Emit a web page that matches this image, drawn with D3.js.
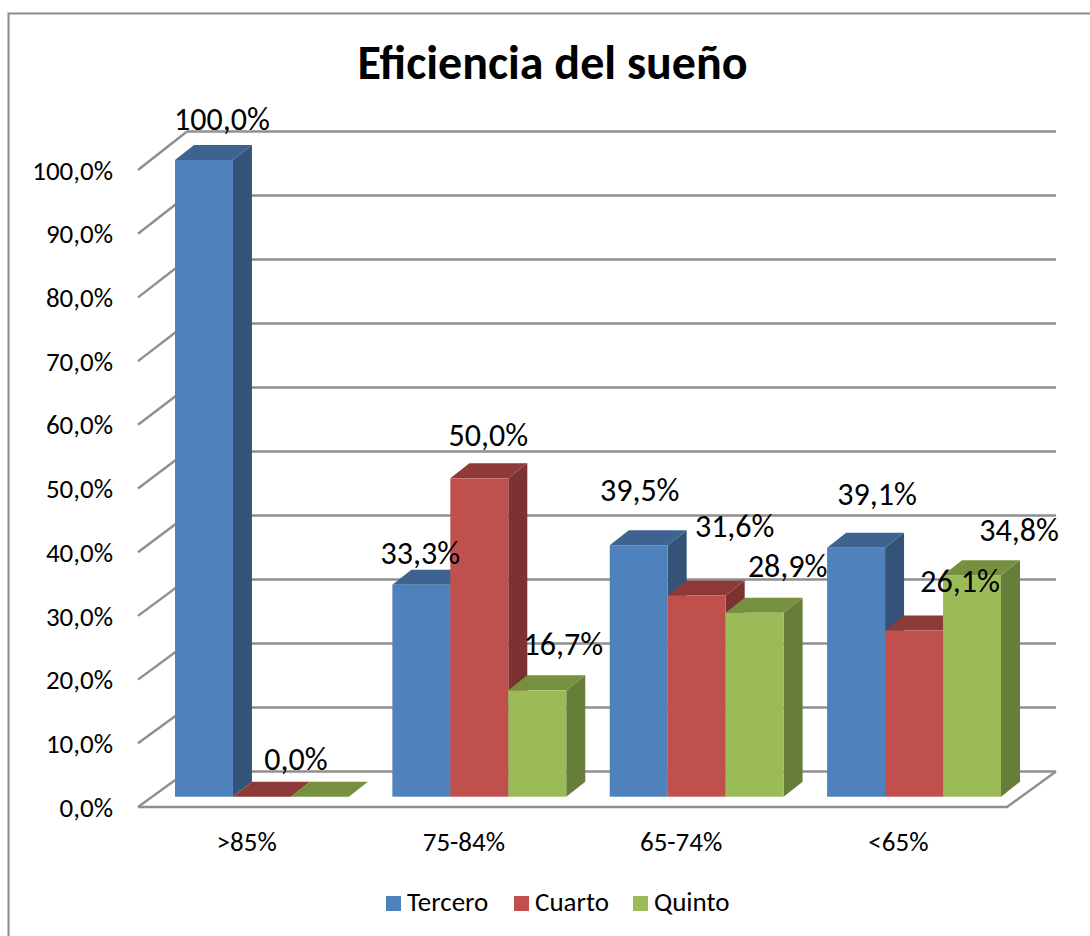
<!DOCTYPE html>
<html>
<head>
<meta charset="utf-8">
<script src="https://cdn.jsdelivr.net/npm/d3@7"></script>
<style>
html,body{margin:0;padding:0;background:#fff;overflow:hidden}
svg{display:block}
text{font-family:Carlito,Lato,sans-serif;fill:#000}
</style>
</head>
<body>
<div id="chart"></div>
<script>
const categories = [">85%", "75-84%", "65-74%", "<65%"];
const seriesNames = ["Tercero", "Cuarto", "Quinto"];
const tercero = [100.0, 33.3, 39.5, 39.1];
const cuarto = [0.0, 50.0, 31.6, 26.1];
const quinto = [0.0, 16.7, 28.9, 34.8];
const tickValues = [0, 10, 20, 30, 40, 50, 60, 70, 80, 90, 100];
const titleText = "Eficiencia del sueño";
const fronts = ["#4F81BD", "#C0504D", "#9BBB59"];
const tops = ["#3E6391", "#8E3A38", "#76903F"];
const sides = ["#335378", "#7C3230", "#677D3A"];
// label nudges relative to each bar's top, [dx, dy] per category per series
const labelNudge = [
  [[18, -40], [34, -36.5], null],
  [[-1, -31], [9, -42], [26, -45]],
  [[1, -54], [38, -69], [33, -46]],
  [[21, -53], [46, -49], [47, -44]]
];

const fmt = v => v.toFixed(1).replace(".", ",") + "%";
const W = 1090, H = 936;
const svg = d3.select("#chart").append("svg").attr("width", W).attr("height", H);

// frame
svg.append("path").attr("d", `M8.5,${H + 5}V13.5H${W + 5}`)
  .attr("fill", "none").attr("stroke", "#8C8C8C").attr("stroke-width", 2);

// title
svg.append("text").attr("x", 552.5).attr("y", 79).attr("text-anchor", "middle")
  .attr("font-size", 48).attr("font-weight", 700).text(titleText);

// scales
const depthX = 49, depthY = -36;
const barDX = 19, barDY = -15;
const yTick = d3.scaleLinear().domain([0, 100]).range([807, 170]);
const yWall = d3.scaleLinear().domain([0, 100]).range([771.5, 131.5]);
const yBar = d3.scaleLinear().domain([0, 100]).range([796.7, 160]);
const xAxisScale = d3.scaleBand().domain(categories).range([138, 1007]);
const xGroup = d3.scaleBand().domain(categories).range([175, 1001]).paddingInner(0.2).paddingOuter(0);
const xSeries = d3.scaleBand().domain(seriesNames).range([0, xGroup.bandwidth()]);

// walls
const grid = svg.append("g").attr("fill", "none").attr("stroke", "#8F8F8F").attr("stroke-width", 2.4);
grid.selectAll("line.wall").data(tickValues).join("line").attr("class", "wall")
  .attr("x1", 138 + depthX).attr("x2", 1007 + depthX)
  .attr("y1", d => yWall(d)).attr("y2", d => yWall(d));
grid.selectAll("line.diag").data(tickValues).join("line").attr("class", "diag")
  .attr("x1", 138).attr("y1", d => yTick(d))
  .attr("x2", 138 + depthX).attr("y2", d => yWall(d));
grid.append("path")
  .attr("d", `M138,${yTick(0)}H1007L${1007 + depthX},${yWall(0)}`);

// bars
const rows = [tercero, cuarto, quinto];
const bars = [];
categories.forEach((c, i) => seriesNames.forEach((s, j) => bars.push({c, s, i, j, v: rows[j][i]})));
const barG = svg.append("g").selectAll("g").data(bars).join("g");
const x0 = d => xGroup(d.c) + xSeries(d.s);
const bw = xSeries.bandwidth();
barG.append("path").attr("fill", d => sides[d.j])
  .attr("d", d => `M${x0(d) + bw},${yBar(0)}V${yBar(d.v)}l${barDX},${barDY}V${yBar(0) + barDY}Z`);
barG.append("path").attr("fill", d => tops[d.j])
  .attr("d", d => `M${x0(d)},${yBar(d.v)}h${bw}l${barDX},${barDY}h${-bw}Z`);
barG.append("rect").attr("fill", d => fronts[d.j])
  .attr("x", x0).attr("width", bw)
  .attr("y", d => yBar(d.v)).attr("height", d => yBar(0) - yBar(d.v));

// value labels
svg.append("g").selectAll("text")
  .data(bars.filter(d => labelNudge[d.i][d.j]))
  .join("text")
  .attr("text-anchor", "middle").attr("font-size", 32)
  .attr("x", d => x0(d) + bw / 2 + labelNudge[d.i][d.j][0])
  .attr("y", d => yBar(d.v) + labelNudge[d.i][d.j][1] + 10)
  .text(d => fmt(d.v));

// axes
const yAxis = svg.append("g").attr("transform", "translate(138,0.5)")
  .call(d3.axisLeft(yTick).tickValues(tickValues).tickSize(0).tickPadding(25).tickFormat(fmt));
yAxis.select(".domain").remove();
yAxis.selectAll("text").attr("font-size", 27).attr("font-family", "Carlito,Lato,sans-serif").attr("fill", "#000");

const xAxis = svg.append("g").attr("transform", "translate(0,807)")
  .call(d3.axisBottom(xAxisScale).tickSize(0).tickPadding(25));
xAxis.select(".domain").remove();
xAxis.selectAll("text").attr("font-size", 27).attr("font-family", "Carlito,Lato,sans-serif").attr("fill", "#000");

// legend
const legendX = d3.scaleOrdinal().domain(seriesNames).range([386, 514, 633]);
const legend = svg.append("g").selectAll("g").data(seriesNames).join("g")
  .attr("transform", d => `translate(${legendX(d)},896)`);
legend.append("rect").attr("width", 15).attr("height", 15).attr("fill", (d, i) => fronts[i]);
legend.append("text").attr("x", 21).attr("y", 15).attr("font-size", 27).text(d => d);
</script>
</body>
</html>
